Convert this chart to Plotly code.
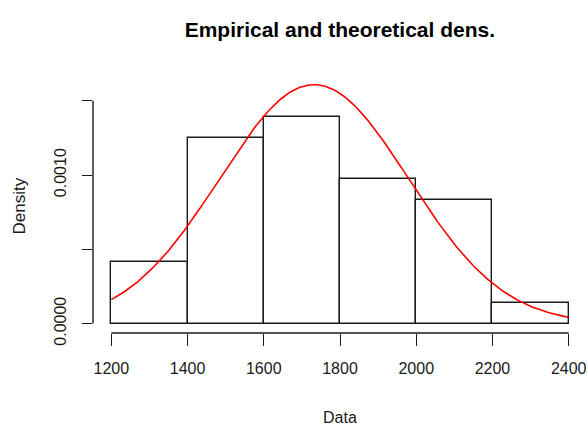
import numpy as np
import plotly.graph_objects as go

# Histogram of the sample: bin edges and counts per bin
bin_edges = [1200, 1400, 1600, 1800, 2000, 2200, 2400]
bin_counts = [6, 18, 20, 14, 12, 2]

# Fitted normal distribution (theoretical density)
fit_mean = 1732.0
fit_sd = 248.0

# Axis ticks
x_ticks = [1200, 1400, 1600, 1800, 2000, 2200, 2400]
x_tick_text = ["1200", "1400", "1600", "1800", "2000", "2200", "2400"]
y_ticks = [0.0, 0.0005, 0.0010, 0.0015]
y_tick_text = ["0.0000", "", "0.0010", ""]

title_text = "Empirical and theoretical dens."
x_label = "Data"
y_label = "Density"

n_obs = sum(bin_counts)
widths = np.diff(bin_edges)
mids = [(a + b) / 2 for a, b in zip(bin_edges[:-1], bin_edges[1:])]
density = [c / (n_obs * w) for c, w in zip(bin_counts, widths)]

grid = np.linspace(bin_edges[0], bin_edges[-1], 401)
curve = np.exp(-0.5 * ((grid - fit_mean) / fit_sd) ** 2) / (fit_sd * np.sqrt(2 * np.pi))

FONT = "Liberation Sans, Arial, sans-serif"
INK = "#1a1a1a"

fig = go.Figure()
fig.add_trace(go.Bar(
    x=mids, y=density, width=list(widths),
    marker=dict(color="white", line=dict(color=INK, width=1.4)),
    hoverinfo="skip",
))
fig.add_trace(go.Scatter(
    x=grid, y=curve, mode="lines",
    line=dict(color="#ff0000", width=1.6),
    hoverinfo="skip",
))

# R-style axis lines spanning only the tick range
fig.add_shape(type="line", xref="paper", yref="y", x0=0, x1=0,
              y0=y_ticks[0], y1=y_ticks[-1], line=dict(color=INK, width=1.4))
fig.add_shape(type="line", xref="x", yref="paper", x0=x_ticks[0], x1=x_ticks[-1],
              y0=0, y1=0, line=dict(color=INK, width=1.4))

span = x_ticks[-1] - x_ticks[0]
fig.update_xaxes(
    range=[x_ticks[0] - 0.04 * span, x_ticks[-1] + 0.04 * span],
    tickvals=x_ticks, ticktext=x_tick_text,
    ticks="outside", ticklen=12, tickwidth=1.4, tickcolor=INK,
    showline=False, showgrid=False, zeroline=False,
    tickfont=dict(family=FONT, size=16, color=INK),
    ticklabelstandoff=9,
)
fig.update_yaxes(
    range=[-0.0000633, 0.00164],
    tickvals=y_ticks, ticktext=y_tick_text,
    ticks="outside", ticklen=10, tickwidth=1.4, tickcolor=INK,
    tickangle=-90,
    showline=False, showgrid=False, zeroline=False,
    tickfont=dict(family=FONT, size=16, color=INK),
    ticklabelstandoff=10,
)

fig.add_annotation(text=x_label, xref="paper", yref="paper", x=0.5, y=0,
                   yanchor="middle", yshift=-84, showarrow=False,
                   font=dict(family=FONT, size=16, color=INK))
fig.add_annotation(text=y_label, xref="paper", yref="paper", x=0, y=0.5,
                   xanchor="center", xshift=-74, textangle=-90, showarrow=False,
                   font=dict(family=FONT, size=17, color=INK))

fig.update_layout(
    width=588, height=429,
    margin=dict(l=93, r=1, t=80, b=96),
    paper_bgcolor="white", plot_bgcolor="white",
    showlegend=False, bargap=0,
    title=dict(text="<b>" + title_text + "</b>", x=0.578, xanchor="center",
               yref="container", y=1 - 29.5 / 429, yanchor="middle",
               font=dict(family=FONT, size=21, color="black")),
)

fig.write_html("out.html")
